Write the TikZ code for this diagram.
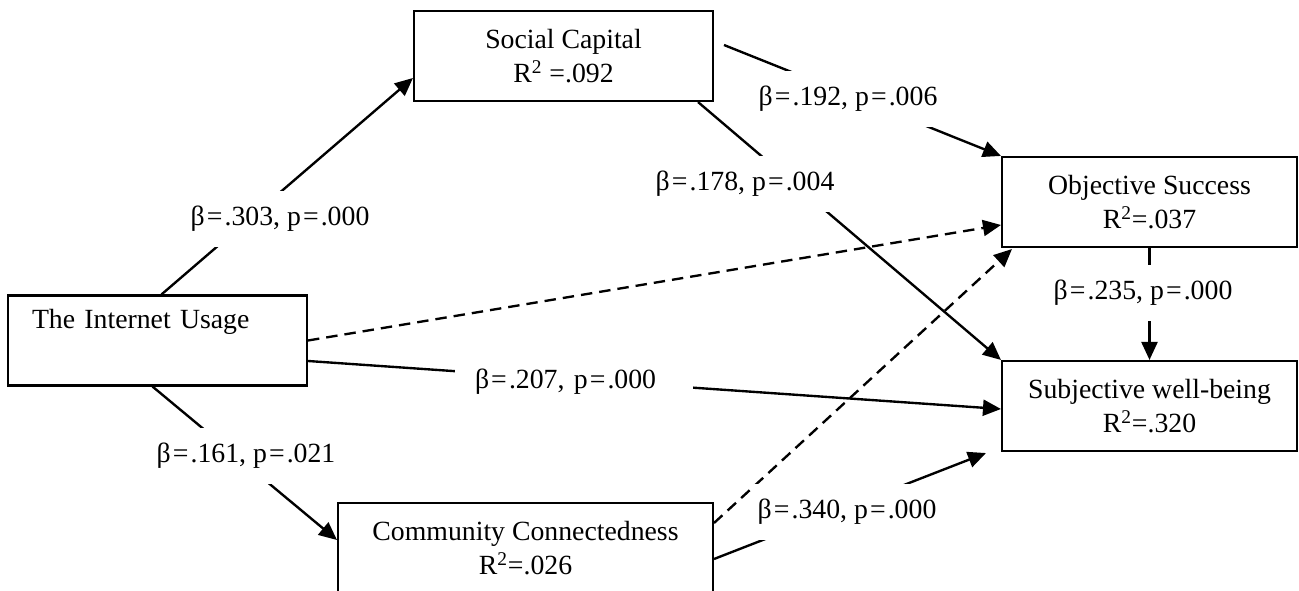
\documentclass[tikz,border=0pt]{standalone}
\usepackage{fontspec}
\setmainfont{Liberation Serif}
\usetikzlibrary{arrows.meta}

\newcommand{\eqs}{\kern1.2pt=\kern1.2pt}

\begin{document}
\begin{tikzpicture}[
    x=0.02cm, y=-0.02cm,
    every node/.style={font=\fontsize{15.8}{19.2}\selectfont},
    box/.style={draw, line width=1.2pt, minimum width=5.98cm, minimum height=1.8cm, align=center, inner sep=2pt},
    lbl/.style={fill=white, inner xsep=2pt, inner ysep=0pt, minimum height=1.12cm},
    link/.style={->, line width=1.35pt},
    dlink/.style={link, dash pattern=on 6.5pt off 4pt},
    >={Triangle[length=0.36cm, width=0.32cm]}
]
    \useasboundingbox (0,0) rectangle (1299,591);
    \clip (0,0) rectangle (1299,591);

    % variables
    \node[box, align=left, text width=5.02cm, inner xsep=0.48cm] (inet) at (157.5,340.5) {The Internet Usage\\ \strut};
    \node[box] (sc) at (563.5,56) {Social Capital\\ R\textsuperscript{2} =.092};
    \node[box, minimum width=7.5cm] (cc) at (525.5,548) {Community Connectedness\\ R\textsuperscript{2}=.026};
    \node[box, minimum width=5.9cm] (os) at (1149.5,202) {Objective Success\\ R\textsuperscript{2}=.037};
    \node[box, minimum width=5.9cm] (swb) at (1149.5,406) {Subjective well-being\\ R\textsuperscript{2}=.320};

    % paths
    \draw[link] ([shift={(4,0)}]inet.north) -- ([shift={(0,22)}]sc.west);
    \draw[link] ([shift={(10,-11)}]sc.east) -- (os.north west);
    \draw[link] ([shift={(-16,0)}]sc.south east) -- (swb.north west);
    \draw[dlink] (inet.east) -- ([shift={(0,23)}]os.west);
    \draw[link] ([shift={(0,20.5)}]inet.east) -- ([shift={(0,3)}]swb.west);
    \draw[link] ([shift={(-5,0)}]inet.south) -- ([shift={(0,-8)}]cc.west);
    \draw[dlink] ([shift={(0,-25)}]cc.east) -- ([shift={(11,1)}]os.south west);
    \draw[link] ([shift={(0,11)}]cc.east) -- ([shift={(-15,1)}]swb.south west);
    \draw[link] (os.south) -- (swb.north);

    % coefficients
    \node[lbl] (b303) at (280,219) {β\eqs.303, p\eqs.000};
    \node[lbl] (b192) at (848,99) {β\eqs.192, p\eqs.006};
    \node[lbl] (b178) at (745,184) {β\eqs.178, p\eqs.004};
    \node[lbl, inner xsep=0.4cm, text width=3.96cm, align=left] (b207) at (574,382) {β\eqs.207, p\eqs.000};
    \node[lbl] (b161) at (246,456) {β\eqs.161, p\eqs.021};
    \node[lbl] (b340) at (847,512) {β\eqs.340, p\eqs.000};
    \node[lbl] (b235) at (1143,293) {β\eqs.235, p\eqs.000};
\end{tikzpicture}
\end{document}
